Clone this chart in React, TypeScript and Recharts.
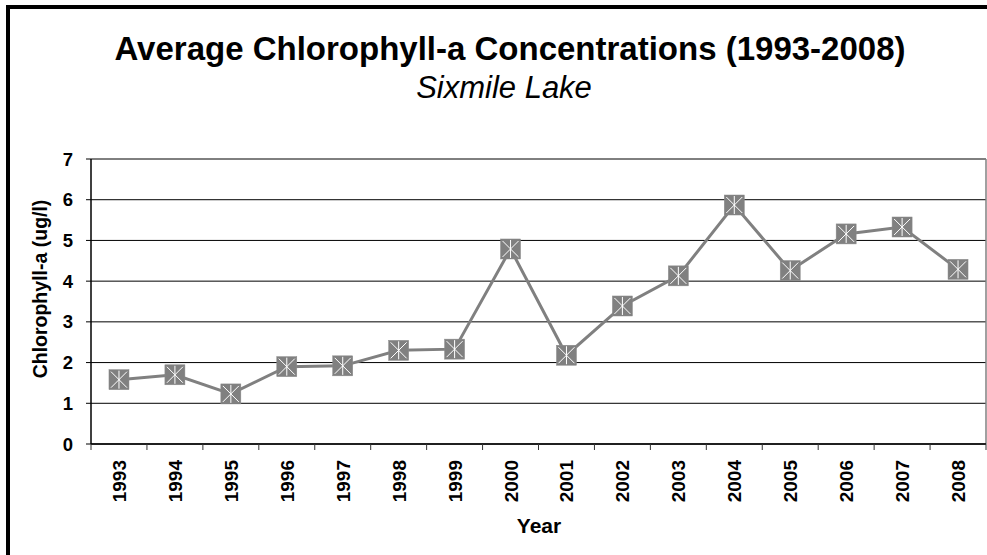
import React from 'react';
import { LineChart, Line, XAxis, YAxis, CartesianGrid, ReferenceLine } from 'recharts';

const years = ['1993', '1994', '1995', '1996', '1997', '1998', '1999', '2000', '2001', '2002', '2003', '2004', '2005', '2006', '2007', '2008'];
const chlorophyll = [1.58, 1.7, 1.23, 1.9, 1.92, 2.3, 2.33, 4.79, 2.18, 3.39, 4.13, 5.87, 4.26, 5.16, 5.33, 4.29];
const yTicks = [0, 1, 2, 3, 4, 5, 6, 7];

const data = years.map((year, i) => ({ year, pos: i + 0.5, value: chlorophyll[i] }));
const xTicks: number[] = [];
for (let i = 0; i <= years.length; i++) {
  xTicks.push(i);
  if (i < years.length) xTicks.push(i + 0.5);
}

const FONT = '"Liberation Sans", Arial, sans-serif';

const XTick = (props: any) => {
  const { x, y, payload } = props;
  const v = payload.value;
  if (Number.isInteger(v)) {
    return <line x1={x} y1={y} x2={x} y2={y + 6} stroke="#333" strokeWidth={1} />;
  }
  const label = years[Math.floor(v)];
  const tx = x + 7;
  const ty = y + 16;
  return (
    <text
      x={tx}
      y={ty}
      transform={`rotate(-90 ${tx} ${ty})`}
      textAnchor="end"
      fontFamily={FONT}
      fontWeight="bold"
      fontSize={19}
      fill="#000"
    >
      {label}
    </text>
  );
};

const Marker = (props: any) => {
  const { cx, cy, index } = props;
  if (cx == null || cy == null) return <g key={`m-${index}`} />;
  const s = 10;
  const i = 8;
  return (
    <g key={`m-${index}`}>
      <rect x={cx - s} y={cy - s} width={2 * s} height={2 * s} fill="#808080" stroke="#8a8a8a" strokeWidth={0.5} />
      <line x1={cx - i} y1={cy - i} x2={cx + i} y2={cy + i} stroke="#fff" strokeWidth={1} />
      <line x1={cx - i} y1={cy + i} x2={cx + i} y2={cy - i} stroke="#fff" strokeWidth={1} />
      <line x1={cx} y1={cy - i - 1} x2={cx} y2={cy + i + 1} stroke="#fff" strokeWidth={1} />
    </g>
  );
};

export default function App() {
  return (
    <div style={{ position: 'absolute', left: 0, top: 0, width: 987, height: 555, overflow: 'hidden', background: '#fff' }}>
      <div
        style={{
          position: 'absolute',
          left: 6,
          top: 5,
          width: 1100,
          height: 700,
          borderLeft: '4px solid #000',
          borderTop: '4px solid #000',
        }}
      />
      <div style={{ position: 'absolute', left: 0, top: 0 }}>
        <LineChart width={987} height={555} data={data} margin={{ top: 159, right: 1, bottom: 0, left: 0 }}>
          <CartesianGrid horizontal vertical={false} stroke="#000" strokeWidth={1} />
          <XAxis
            dataKey="pos"
            type="number"
            domain={[0, years.length]}
            ticks={xTicks}
            interval={0}
            tickSize={0}
            tickMargin={0}
            tickLine={false}
            tick={<XTick />}
            axisLine={{ stroke: '#000', strokeWidth: 1.5 }}
            height={111}
            allowDecimals
          />
          <YAxis
            type="number"
            domain={[0, 7]}
            ticks={yTicks}
            interval={0}
            width={91}
            tickSize={5}
            tickMargin={13}
            tickLine={{ stroke: '#000' }}
            axisLine={{ stroke: '#000', strokeWidth: 1.5 }}
            tick={{ fontFamily: FONT, fontWeight: 'bold', fontSize: 18.5, fill: '#000' }}
          />
          <ReferenceLine x={years.length} stroke="#808080" strokeWidth={1.5} />
          <Line
            type="linear"
            dataKey="value"
            stroke="#808080"
            strokeWidth={3}
            dot={<Marker />}
            activeDot={false}
            isAnimationActive={false}
          />
        </LineChart>
      </div>
      <svg width={987} height={555} style={{ position: 'absolute', left: 0, top: 0, pointerEvents: 'none' }}>
        <text x={510} y={60} textAnchor="middle" fontFamily={FONT} fontWeight="bold" fontSize={33} fill="#000">
          Average Chlorophyll-a Concentrations (1993-2008)
        </text>
        <text x={504} y={98} textAnchor="middle" fontFamily={FONT} fontStyle="italic" fontSize={31} fill="#000">
          Sixmile Lake
        </text>
        <text
          x={47}
          y={289}
          transform="rotate(-90 47 289)"
          textAnchor="middle"
          fontFamily={FONT}
          fontWeight="bold"
          fontSize={19.5}
          fill="#000"
        >
          Chlorophyll-a (ug/l)
        </text>
        <text x={539} y={533} textAnchor="middle" fontFamily={FONT} fontWeight="bold" fontSize={21} fill="#000">
          Year
        </text>
      </svg>
    </div>
  );
}
